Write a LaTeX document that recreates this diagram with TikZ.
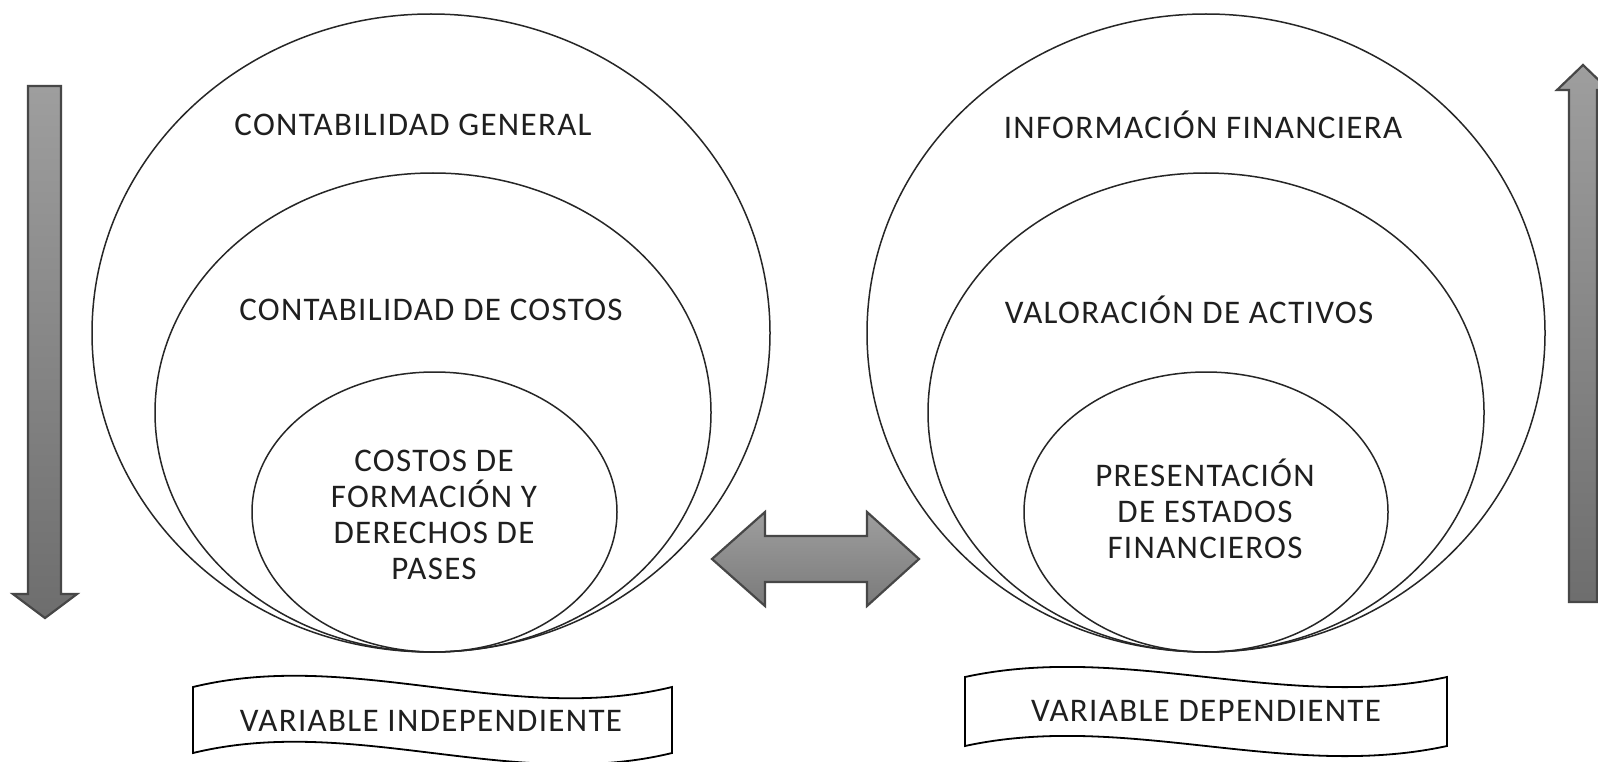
\documentclass[tikz,border=0pt]{standalone}
\usepackage{fontspec}
\setmainfont{Carlito}[LetterSpace=4]
\begin{document}
\begin{tikzpicture}[x=1pt,y=-1pt,
  ring/.style={draw=black!85, line width=1.5pt},
  lbl/.style={font=\fontsize{33}{36}\selectfont, text=black!88, inner sep=0pt, align=center},
  garrow/.style={draw=black!72, line width=2.2pt, line join=miter, top color=black!38, bottom color=black!57},
  harrow/.style={draw=black!72, line width=2.2pt, line join=miter, top color=black!38, bottom color=black!52},
  banner/.style={draw=black, line width=1.8pt, fill=white}]
\useasboundingbox (0,0) rectangle (1598,762);
\fill[white] (0,0) rectangle (1598,762);

% left group of circles
\coordinate (LO) at (431,333);
\coordinate (LM) at (433,412.5);
\coordinate (LI) at (434.5,512);
\draw[ring] (LO) ellipse [x radius=339, y radius=319];
\draw[ring] (LM) ellipse [x radius=278, y radius=239.5];
\draw[ring] (LI) ellipse [x radius=182.5, y radius=140];

% right group of circles
\coordinate (RO) at (1206,333);
\coordinate (RM) at (1206,412.5);
\coordinate (RI) at (1206,512);
\draw[ring] (RO) ellipse [x radius=339, y radius=319];
\draw[ring] (RM) ellipse [x radius=278, y radius=239.5];
\draw[ring] (RI) ellipse [x radius=182, y radius=140];

% labels
\node[lbl] (cg) at (413,125) {CONTABILIDAD GENERAL};
\node[lbl] (cc) at (431,310) {CONTABILIDAD DE COSTOS};
\node[lbl] (cf) at (434,515) {COSTOS DE\\FORMACIÓN Y\\DERECHOS DE\\PASES};
\node[lbl] (inf) at (1203,125) {INFORMACIÓN FINANCIERA};
\node[lbl] (va) at (1189,310) {VALORACIÓN DE ACTIVOS};
\node[lbl] (pe) at (1205,509) {PRESENTACIÓN\\DE ESTADOS\\FINANCIEROS};

% down arrow (left)
\draw[garrow] (28,86) -- (61,86) -- (61,594) -- (77,594) -- (45,618) -- (13,594) -- (28,594) -- cycle;

% up arrow (right, cut by the edge)
\draw[garrow] (1569,602) -- (1569,90) -- (1557,90) -- (1583,65) -- (1609,90) -- (1597,90) -- (1597,602) -- cycle;

% double arrow
\draw[harrow] (712,559) -- (765,512) -- (765,536) -- (867,536) -- (867,512) -- (919,559) -- (867,606) -- (867,582) -- (765,582) -- (765,606) -- cycle;

% banners
\draw[banner] (193,687) .. controls (353,648) and (512,726) .. (672,687) -- (672,753) .. controls (512,792) and (353,714) .. (193,753) -- cycle;
\node[lbl] (vi) at (431,721) {VARIABLE INDEPENDIENTE};

\draw[banner] (965,677) .. controls (1126,642) and (1286,712) .. (1447,677) -- (1447,746) .. controls (1286,781) and (1126,711) .. (965,746) -- cycle;
\node[lbl] (vd) at (1206,711) {VARIABLE DEPENDIENTE};
\end{tikzpicture}
\end{document}
